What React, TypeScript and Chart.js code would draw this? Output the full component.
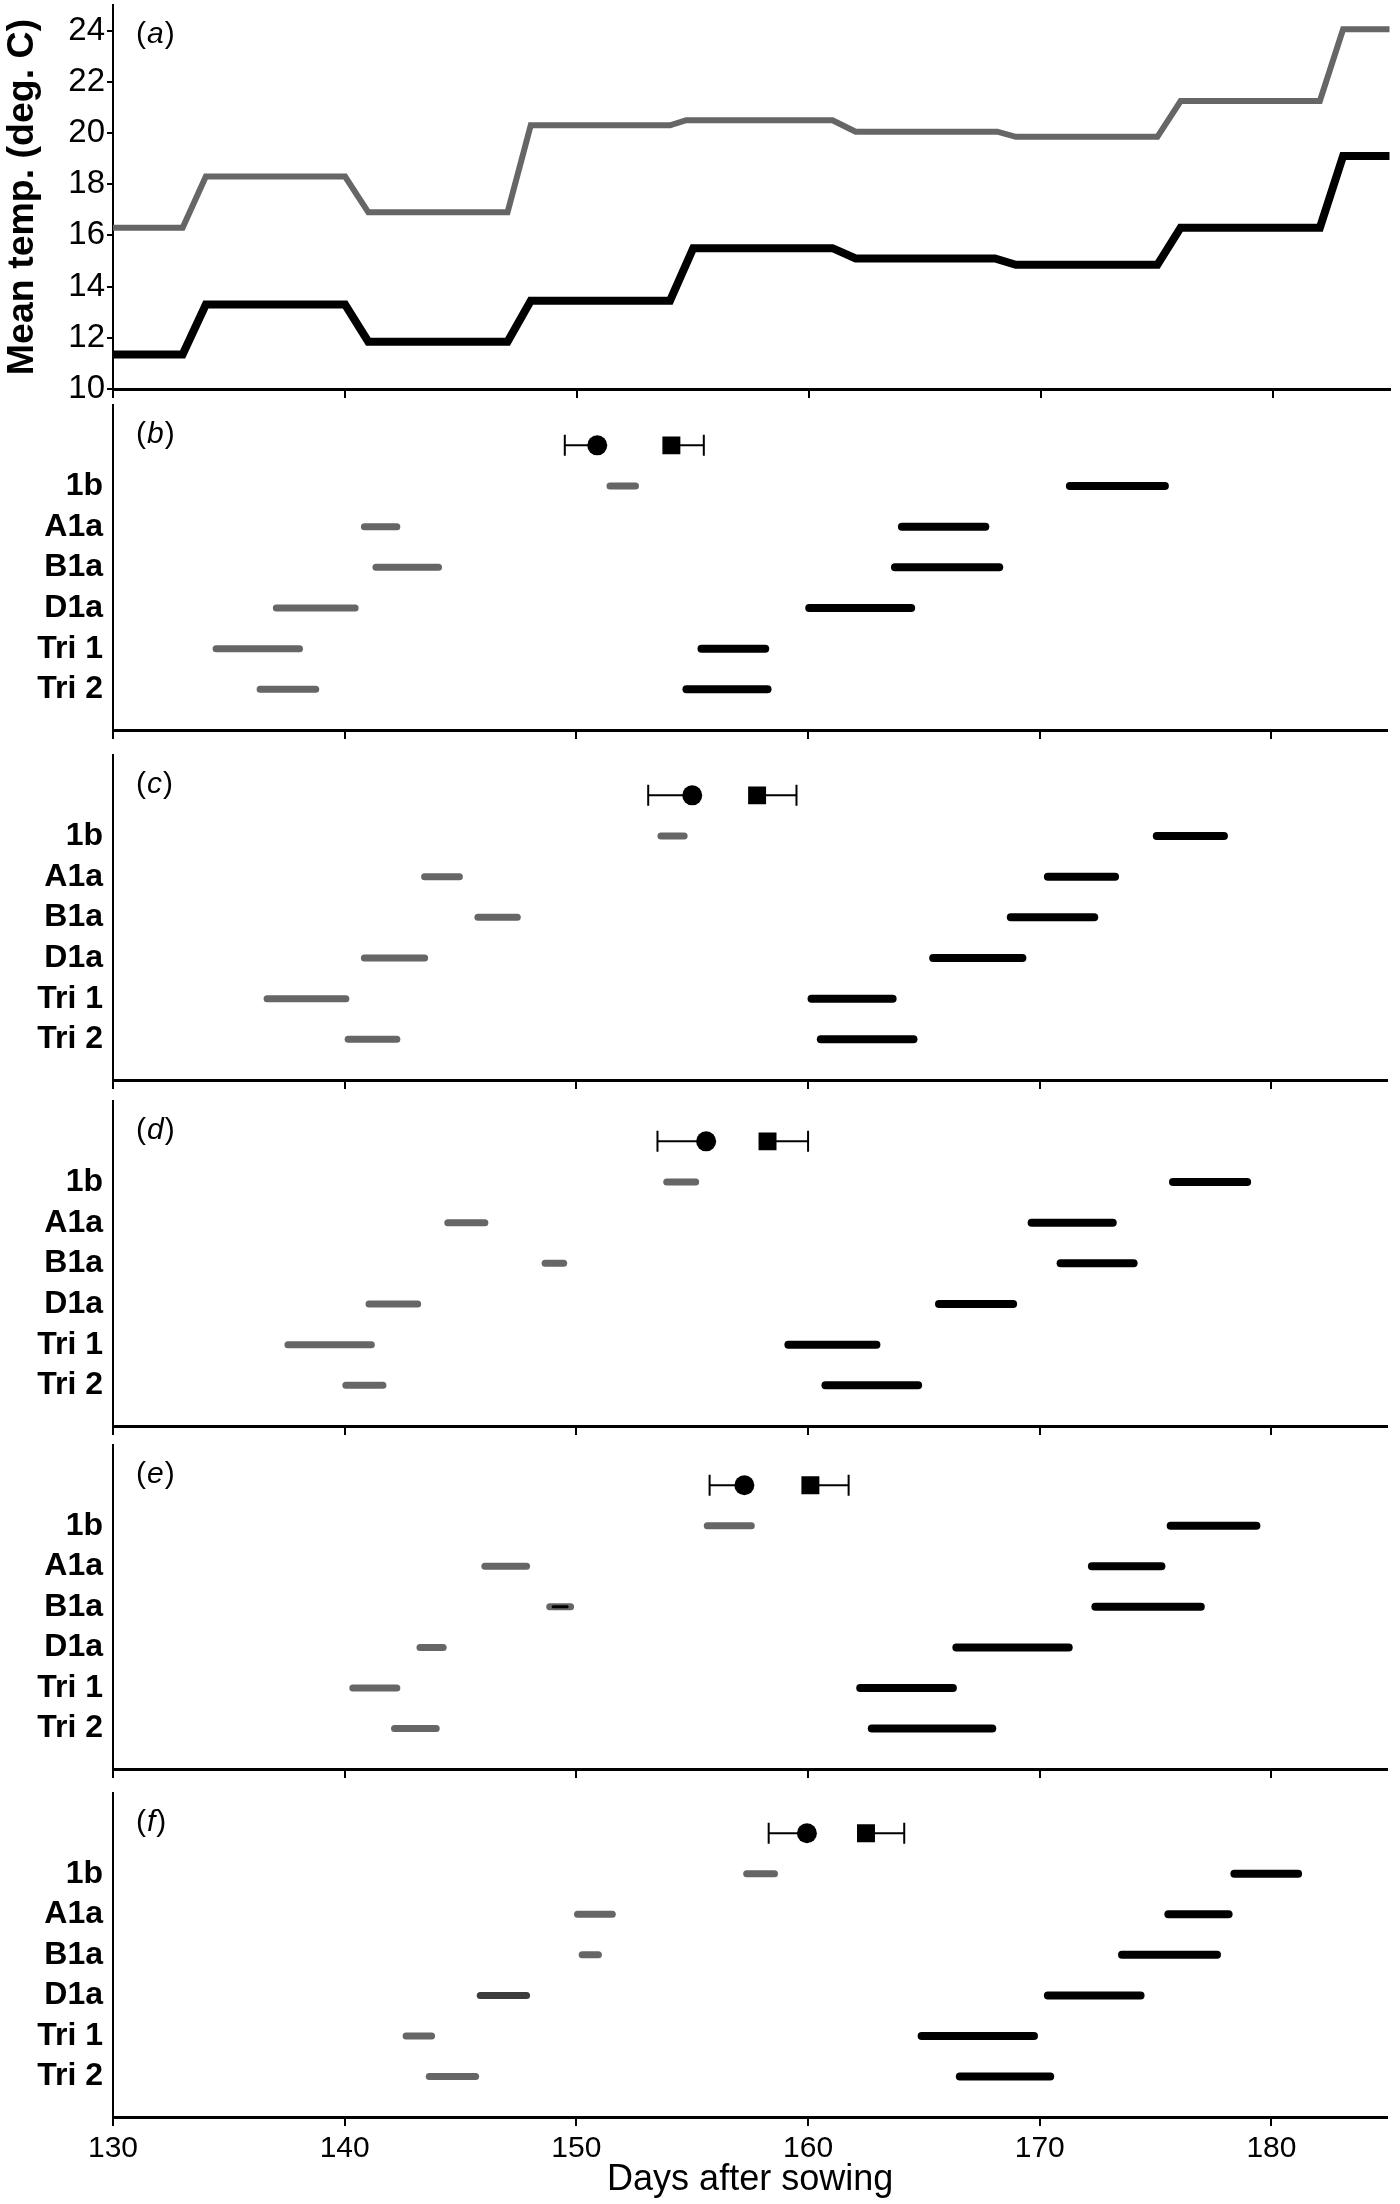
import React, { useEffect, useRef } from 'react';
import { Chart, registerables } from 'chart.js';

Chart.register(...registerables);
Chart.defaults.font.family = '"Liberation Sans", Arial, Helvetica, sans-serif';
Chart.defaults.color = '#000';

// ---------- Data ----------
const X_MIN = 130;
const X_MAX = 185;
const X_TICKS = [130, 140, 150, 160, 170, 180];
const TEMP_TICKS = [10, 12, 14, 16, 18, 20, 22, 24];

// Panel (a): mean temperature step lines
const WARM_DAYS = [130, 133, 134, 140, 141, 147, 148, 154, 154.7, 161, 162, 168.1, 168.9, 175, 176, 182, 183, 185];
const WARM_TEMP = [16.3, 16.3, 18.3, 18.3, 16.9, 16.9, 20.3, 20.3, 20.5, 20.5, 20.05, 20.05, 19.85, 19.85, 21.25, 21.25, 24.05, 24.05];
const COOL_DAYS = [130, 133, 134, 140, 141, 147, 148, 154, 155, 161, 162, 168, 168.9, 175, 176, 182, 183, 185];
const COOL_TEMP = [11.35, 11.35, 13.3, 13.3, 11.85, 11.85, 13.45, 13.45, 15.5, 15.5, 15.1, 15.1, 14.85, 14.85, 16.3, 16.3, 19.1, 19.1];

const CATEGORIES = ['1b', 'A1a', 'B1a', 'D1a', 'Tri 1', 'Tri 2'];
const PANEL_LETTERS = ['b', 'c', 'd', 'e', 'f'];

// [start, end] day ranges per category (1b, A1a, B1a, D1a, Tri 1, Tri 2)
const B_GRAY = [[151.45, 152.55], [140.85, 142.25], [141.35, 144.05], [137.05, 140.45], [134.45, 138.05], [136.35, 138.75]];
const B_BLACK = [[171.3, 175.4], [164.05, 167.65], [163.75, 168.25], [160.05, 164.45], [155.4, 158.15], [154.75, 158.25]];
const C_GRAY = [[153.65, 154.65], [143.45, 144.95], [145.75, 147.45], [140.85, 143.45], [136.65, 140.05], [140.15, 142.25]];
const C_BLACK = [[175.05, 177.95], [170.35, 173.25], [168.75, 172.35], [165.4, 169.25], [160.15, 163.65], [160.55, 164.55]];
const D_GRAY = [[153.9, 155.15], [144.45, 146.05], [148.65, 149.45], [141.05, 143.15], [137.55, 141.15], [140.05, 141.65]];
const D_BLACK = [[175.75, 178.95], [169.65, 173.15], [170.9, 174.05], [165.65, 168.85], [159.15, 162.95], [160.75, 164.75]];
const E_GRAY = [[155.65, 157.55], [146.05, 147.85], [148.85, 149.75], [143.25, 144.25], [140.35, 142.25], [142.15, 143.95]];
const E_BLACK = [[175.65, 179.35], [172.25, 175.25], [172.4, 176.95], [166.4, 171.25], [162.25, 166.25], [162.75, 167.95]];
const F_GRAY = [[157.35, 158.55], [150.05, 151.55], [150.25, 150.95], [145.85, 147.85], [142.65, 143.75], [143.65, 145.65]];
const F_BLACK = [[178.4, 181.15], [175.55, 178.15], [173.55, 177.65], [170.35, 174.35], [164.9, 169.75], [166.55, 170.45]];
const E_B1A_INNER = [149.0, 149.6];

// Mean markers with one-sided error bars (b..f)
const CIRCLE_MEAN = [150.9, 155.0, 155.6, 157.25, 159.95];
const CIRCLE_LOW = [149.5, 153.1, 153.5, 155.75, 158.3];
const SQUARE_MEAN = [154.1, 157.8, 158.25, 160.1, 162.5];
const SQUARE_HIGH = [155.5, 159.5, 160.0, 161.75, 164.15];

const GRAY_SETS = [B_GRAY, C_GRAY, D_GRAY, E_GRAY, F_GRAY];
const BLACK_SETS = [B_BLACK, C_BLACK, D_BLACK, E_BLACK, F_BLACK];

// ---------- Styling / layout ----------
const GRAY = '#666666';
const DARK_GRAY = '#3c3c3c';
const AXIS_W = 113;
const PAD_RIGHT = 10.5;

function panelLabelPlugin(letter: string) {
  return {
    id: 'panelLabel',
    afterDraw(chart: any) {
      const { ctx, chartArea } = chart;
      ctx.save();
      ctx.fillStyle = '#000';
      ctx.textBaseline = 'middle';
      ctx.textAlign = 'left';
      let x = chartArea.left + 23;
      const y = chartArea.top + 30;
      const fam = '"Liberation Sans", Arial, sans-serif';
      ctx.font = `30px ${fam}`;
      ctx.fillText('(', x, y);
      x += ctx.measureText('(').width + 1;
      ctx.font = `italic 30px ${fam}`;
      ctx.fillText(letter, x, y);
      x += ctx.measureText(letter).width + 1;
      ctx.font = `30px ${fam}`;
      ctx.fillText(')', x, y);
      ctx.restore();
    },
  };
}

function xScale(showLabels: boolean) {
  return {
    type: 'linear',
    min: X_MIN,
    max: X_MAX,
    afterBuildTicks: (s: any) => {
      s.ticks = X_TICKS.map((v) => ({ value: v }));
    },
    grid: { display: true, drawOnChartArea: false, drawTicks: true, tickLength: 9, color: '#000', lineWidth: 2 },
    border: { display: true, color: '#000', width: 3 },
    ticks: { display: showLabels, color: '#000', font: { size: 30 }, padding: 5, maxRotation: 0, autoSkip: false },
    title: showLabels
      ? { display: true, text: 'Days after sowing', color: '#000', font: { size: 36 }, padding: { top: 0, bottom: 2 } }
      : { display: false },
    afterFit: (s: any) => {
      s.height = showLabels ? 87 : 21;
    },
  };
}

function tempConfig(): any {
  return {
    type: 'line',
    data: {
      datasets: [
        {
          data: COOL_DAYS.map((d, i) => ({ x: d, y: COOL_TEMP[i] })),
          borderColor: '#000',
          borderWidth: 8,
          borderCapStyle: 'round',
          borderJoinStyle: 'miter',
          pointRadius: 0,
          tension: 0,
        },
        {
          data: WARM_DAYS.map((d, i) => ({ x: d, y: WARM_TEMP[i] })),
          borderColor: GRAY,
          borderWidth: 6,
          borderCapStyle: 'round',
          borderJoinStyle: 'miter',
          pointRadius: 0,
          tension: 0,
        },
      ],
    },
    options: {
      responsive: false,
      animation: false,
      events: [],
      devicePixelRatio: 1,
      layout: { padding: { top: 5, right: PAD_RIGHT, left: 0, bottom: 0 } },
      plugins: { legend: { display: false }, tooltip: { enabled: false } },
      scales: {
        x: xScale(false),
        y: {
          type: 'linear',
          min: 10,
          max: 25,
          afterBuildTicks: (s: any) => {
            s.ticks = TEMP_TICKS.map((v) => ({ value: v }));
          },
          grid: { display: true, drawOnChartArea: false, drawTicks: true, tickLength: 6, color: '#000', lineWidth: 2 },
          border: { display: true, color: '#000', width: 2 },
          ticks: { color: '#000', font: { size: 33 }, padding: 2 },
          title: {
            display: true,
            text: 'Mean temp. (deg. C)',
            color: '#000',
            font: { size: 37.5, weight: 'bold' },
            padding: { top: 0, bottom: 0 },
          },
          afterFit: (s: any) => {
            s.width = AXIS_W;
            s.paddingTop = 0;
            s.paddingBottom = 0;
          },
        },
      },
    },
    plugins: [panelLabelPlugin('a')],
  };
}

function phaseConfig(p: number): any {
  const datasets: any[] = [];
  // markers (on top)
  datasets.push({
    data: [{ x: CIRCLE_MEAN[p], y: 1 }],
    showLine: false,
    pointStyle: 'circle',
    pointRadius: 10,
    pointBackgroundColor: '#000',
    pointBorderColor: '#000',
    pointBorderWidth: 0,
  });
  datasets.push({
    data: [{ x: SQUARE_MEAN[p], y: 1 }],
    showLine: false,
    pointStyle: 'rect',
    pointRadius: 12.7,
    pointBackgroundColor: '#000',
    pointBorderColor: '#000',
    pointBorderWidth: 0,
  });
  // error whiskers
  datasets.push({
    data: [{ x: CIRCLE_LOW[p], y: 1 }, { x: CIRCLE_MEAN[p], y: 1 }],
    borderColor: '#000',
    borderWidth: 2,
    pointRadius: [10.5, 0],
    pointStyle: 'line',
    pointRotation: 90,
    pointBorderColor: '#000',
    pointBorderWidth: 2,
    tension: 0,
  });
  datasets.push({
    data: [{ x: SQUARE_MEAN[p], y: 1 }, { x: SQUARE_HIGH[p], y: 1 }],
    borderColor: '#000',
    borderWidth: 2,
    pointRadius: [0, 10.5],
    pointStyle: 'line',
    pointRotation: 90,
    pointBorderColor: '#000',
    pointBorderWidth: 2,
    tension: 0,
  });
  if (p === 3) {
    datasets.push({
      data: [{ x: E_B1A_INNER[0], y: 4 }, { x: E_B1A_INNER[1], y: 4 }],
      borderColor: '#000',
      borderWidth: 3,
      borderCapStyle: 'round',
      pointRadius: 0,
    });
  }
  BLACK_SETS[p].forEach((r, i) => {
    datasets.push({
      data: [{ x: r[0], y: i + 2 }, { x: r[1], y: i + 2 }],
      borderColor: '#000',
      borderWidth: 8,
      borderCapStyle: 'round',
      pointRadius: 0,
      tension: 0,
    });
  });
  GRAY_SETS[p].forEach((r, i) => {
    datasets.push({
      data: [{ x: r[0], y: i + 2 }, { x: r[1], y: i + 2 }],
      borderColor: p === 4 && i === 3 ? DARK_GRAY : GRAY,
      borderWidth: 7,
      borderCapStyle: 'round',
      pointRadius: 0,
      tension: 0,
    });
  });

  const last = p === 4;
  return {
    type: 'line',
    data: { datasets },
    options: {
      responsive: false,
      animation: false,
      events: [],
      devicePixelRatio: 1,
      layout: { padding: { top: 10, right: PAD_RIGHT, left: 0, bottom: 0 } },
      plugins: { legend: { display: false }, tooltip: { enabled: false } },
      scales: {
        x: xScale(last),
        y: {
          type: 'linear',
          min: 0,
          max: 8,
          reverse: true,
          afterBuildTicks: (s: any) => {
            s.ticks = CATEGORIES.map((_, i) => ({ value: i + 2 }));
          },
          grid: { display: false, drawTicks: false },
          border: { display: true, color: '#000', width: 2 },
          ticks: {
            color: '#000',
            font: { size: 32, weight: 'bold' },
            padding: 10,
            callback: (v: any) => CATEGORIES[Math.round(Number(v)) - 2] ?? '',
          },
          afterFit: (s: any) => {
            s.width = AXIS_W;
            s.paddingTop = 0;
            s.paddingBottom = 0;
          },
        },
      },
    },
    plugins: [panelLabelPlugin(PANEL_LETTERS[p])],
  };
}

function ChartCanvas({ top, height, build }: { top: number; height: number; build: () => any }) {
  const ref = useRef<HTMLCanvasElement>(null);
  useEffect(() => {
    const chart = new Chart(ref.current as HTMLCanvasElement, build());
    return () => chart.destroy();
  }, []);
  return (
    <canvas
      ref={ref}
      width={1400}
      height={height}
      style={{ position: 'absolute', left: 0, top, width: 1400, height, display: 'block' }}
    />
  );
}

const PANEL_CANVAS = [
  { top: 392, height: 359 },
  { top: 742, height: 359 },
  { top: 1088, height: 359 },
  { top: 1432, height: 358 },
  { top: 1780, height: 424 },
];

export default function App() {
  return (
    <div style={{ position: 'absolute', left: 0, top: 0, width: 1400, height: 2204, background: '#fff' }}>
      <ChartCanvas top={0} height={410} build={tempConfig} />
      {PANEL_CANVAS.map((c, p) => (
        <ChartCanvas key={p} top={c.top} height={c.height} build={() => phaseConfig(p)} />
      ))}
    </div>
  );
}
